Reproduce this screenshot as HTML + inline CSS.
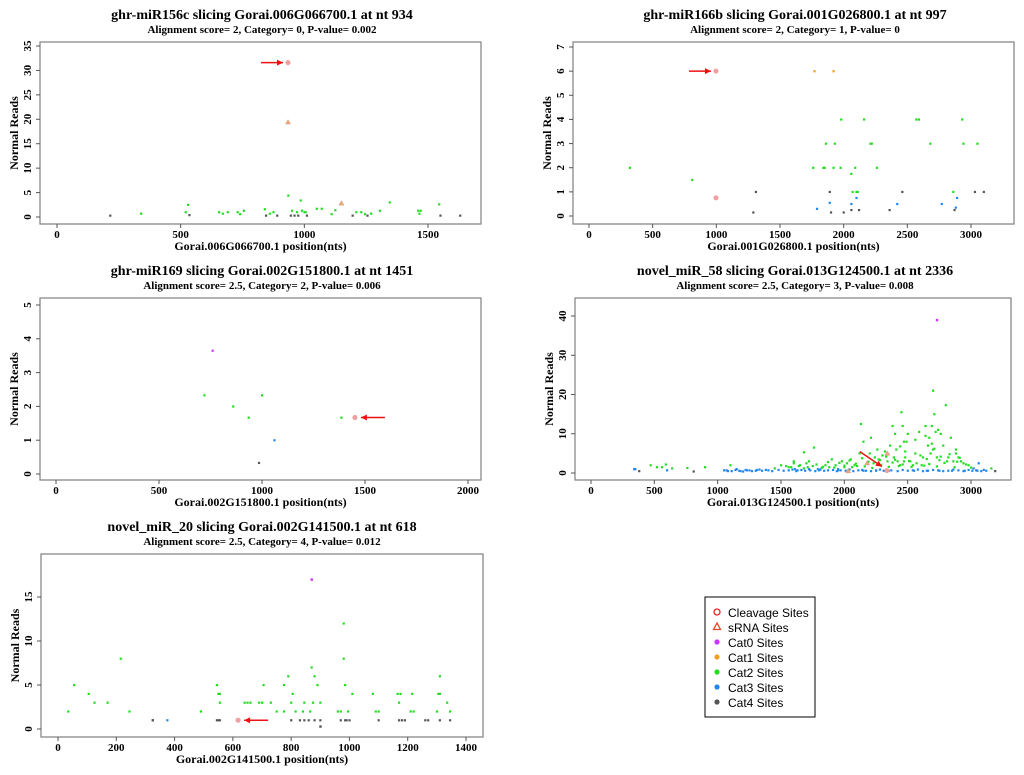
<!DOCTYPE html>
<html><head><meta charset="utf-8"><style>
body{margin:0;background:#fff;width:1024px;height:775px;overflow:hidden}
svg{display:block}
.t{font-family:"Liberation Serif",serif;font-weight:bold;fill:#000}
.l{font-family:"Liberation Sans",sans-serif;font-size:12px;fill:#000}
</style></head><body>
<svg id="c" width="1024" height="775" viewBox="0 0 1024 775"></svg>
<script>
// Panel 1 data
const p1X=[215,340,520,530,535,655,670,690,730,740,755,840,845,860,875,890,935,945,950,960,970,975,985,990,1000,1005,1010,1050,1070,1110,1125,1195,1210,1230,1245,1255,1270,1305,1345,1460,1465,1470,1545,1550,1630];
const p1Y=[0.3,0.7,1,2.5,0.4,1,0.7,1,1,0.6,1.3,1.6,0.3,0.7,1,0.3,4.4,0.3,1.3,0.3,1,0.3,3.4,1.3,1,1,0.3,1.7,1.7,0.6,1.4,0.3,1,1,0.6,0.3,0.7,1.3,3,1.3,0.7,1.3,2.6,0.3,0.3];
const p1C=[4,2,2,2,4,2,2,2,2,2,2,2,4,2,2,4,2,4,2,4,2,4,2,2,2,2,4,2,2,2,2,4,2,2,2,4,2,2,2,2,2,2,2,4,4];
const p1Special=[[934,31.6,'c'],[934,19.4,'s'],[1150,2.8,'s']];
// Panel 2 data
const p2X=[320,810,1290,1310,1760,1790,1840,1850,1860,1890,1890,1900,1920,1930,1975,1980,2000,2060,2060,2060,2070,2090,2100,2100,2110,2120,2160,2210,2220,2260,2360,2420,2460,2570,2590,2680,2770,2860,2870,2880,2890,2930,2940,3030,3050,3100,1770,1920];
const p2Y=[2,1.5,0.15,1,2,0.3,2,2,3,0.55,1,0.15,2,3,2,4,0.15,1.75,0.5,0.25,1,2,0.75,1,1,0.25,4,3,3,2,0.25,0.5,1,4,4,3,0.5,1,0.25,0.35,0.75,4,3,1,3,1,6,6];
const p2C=[2,2,4,4,2,3,2,2,2,3,4,4,2,2,2,2,4,2,3,4,2,2,3,2,2,4,2,2,2,2,4,3,4,2,2,2,3,2,4,3,3,2,2,4,2,4,1,1];
const p2Special=[[997,6,'c'],[997,0.75,'c']];
// Panel 3 data
const p3X=[760,720,860,935,1000,1385,1060,985];
const p3Y=[3.65,2.33,2,1.67,2.33,1.67,1,0.33];
const p3C=[0,2,2,2,2,2,3,4];
const p3Special=[[1451,1.67,'c']];
// Panel 4 data
const p4X=[340,350,380,470,520,560,590,600,640,760,810,900,1050,1080,1100,1150,1180,1220,1250,1300,1330,1380,1450,1500,1540,1580,1600,1610,1650,1680,1700,1710,1720,1750,1760,1790,1820,1850,1880,1900,1930,1950,1980,2000,2020,2050,2080,2100,2120,2130,2150,2180,2200,2210,2240,2260,2280,2300,2320,2340,2360,2380,2400,2420,2440,2450,2460,2470,2480,2500,2520,2540,2560,2590,2620,2640,2660,2680,2690,2700,2710,2720,2730,2740,2760,2780,2800,2820,2840,2860,2880,2900,2920,2940,2980,3020,3060,3100,3160,3190,1630,1800,1950,2150,2250,2350,2550,2650,2750,2850,2950,3050,2390,2410,2470,2490,2610,2670,2700,2810,2230,
 1070,1110,1140,1170,1200,1230,1270,1310,1350,1400,1430,1480,1520,1560,1590,1620,1660,1690,1730,1770,1810,1840,1870,1910,1940,1970,2010,2040,2070,2110,2140,2170,2210,2250,2280,2310,2370,2420,2460,2500,2540,2580,2620,2660,2700,2740,2780,2820,2860,2900,2940,2980,3010,3040,3080,3120,
 1560,1600,1640,1680,1720,1780,1830,1870,1920,1960,2000,2040,2060,2090,2140,2160,2190,2220,2270,2290,2330,2350,2380,2400,2430,2460,2480,2510,2530,2570,2600,2630,2650,2670,2710,2730,2750,2790,2830,2870,2890,2910,2960,3000,2440,2560,2640,2690,2760,2880];
const p4Y=[1,1,0.5,2,1.5,1.5,2.2,0.7,1.2,1.3,0.4,1.5,0.7,0.5,2,1,0.5,0.8,0.7,0.6,0.9,0.8,1.2,2,1.8,1.5,3,1,2,5.3,2.5,1.5,1,1.8,6.5,1,1.3,2,1.5,3.5,2,1,3,1.5,2.5,3.5,2,1.8,5,12.5,8,2.5,5,9,4,6,3.3,4.5,5.5,3,7,12,10,3,2,15.5,12,8,4,10,3,2,5,10.5,4,12,7,5,12,21,15,10.5,4,11,10,7,17.3,4,9,3,5,4,3,2.5,2,1.2,2.5,0.8,1.2,0.5,0.7,0.7,0.7,0.6,0.6,0.6,0.6,0.6,0.6,0.6,0.6,0.6,4,6,3,8,2,9,6,3,2.5,
 0.7,0.5,0.8,0.6,0.4,0.7,0.5,0.8,0.6,0.7,0.5,0.8,0.6,0.7,0.9,0.5,0.8,0.6,0.7,0.5,0.9,0.6,0.7,0.8,0.5,0.7,0.6,0.9,0.5,0.7,0.8,0.6,0.5,0.7,0.9,0.6,0.7,0.5,0.8,0.6,0.7,0.9,0.5,0.6,0.8,0.7,0.5,0.6,0.9,0.7,0.5,0.8,0.6,0.7,0.5,0.6,
 1.5,2.5,1.8,1.2,3,2.2,1.6,2.8,1.4,2.6,1.9,3.2,1.5,2.4,3.8,1.7,2.9,1.3,3.5,2.1,4.2,1.6,2.7,3.4,1.8,2.2,5.5,3.1,1.6,2.5,4.5,1.9,3.6,2.3,6.2,1.7,3.3,2.6,4.8,1.5,2.9,3.9,2.2,1.4,6.8,8.5,9.5,7.5,4.2,6];
const p4C=[3,3,4,2,2,2,2,3,2,2,4,2,3,3,2,3,3,3,3,3,3,3,2,2,2,2,2,3,2,2,2,2,3,2,2,3,2,2,2,2,2,3,2,2,2,2,2,2,2,2,2,2,2,2,2,2,2,2,2,2,2,2,2,2,2,2,2,2,2,2,2,2,2,2,2,2,2,2,2,2,2,2,2,2,2,2,2,2,2,2,2,2,2,2,2,3,3,3,2,4,3,3,3,3,3,3,3,3,3,3,3,3,2,2,2,2,2,2,2,2,2,
 3,3,3,3,3,3,3,3,3,3,3,3,3,3,3,3,3,3,3,3,3,3,3,3,3,3,3,3,3,3,3,3,3,3,3,3,3,3,3,3,3,3,3,3,3,3,3,3,3,3,3,3,3,3,3,3,
 2,2,2,2,2,2,2,2,2,2,2,2,2,2,2,2,2,2,2,2,2,2,2,2,2,2,2,2,2,2,2,2,2,2,2,2,2,2,2,2,2,2,2,2,2,2,2,2,2,2];
const p4Special=[[2730,39,'0'],[2336,0.6,'c'],[2180,2.5,'s'],[2340,5,'s'],[2030,0.5,'s']];
// Panel 5 data
const p5X=[35,55,105,125,170,215,245,325,375,490,545,550,555,555,545,640,650,660,690,700,705,730,750,775,775,790,800,805,815,840,845,865,870,875,880,890,900,960,970,980,980,985,995,1010,1080,1090,1100,1165,1170,1175,1210,1215,1220,1300,1305,1310,1310,1335,1345,550,555,800,830,845,860,880,900,970,985,990,1000,1100,1170,1180,1190,1260,1270,1310,1345,325];
const p5Y=[2,5,4,3,3,8,2,1,1,2,5,4,4,3,1,3,3,3,3,3,5,3,2,5,2,6,3,4,2,2,3,2,7,3,6,5,3,2,2,12,8,5,2,4,4,2,2,4,3,4,2,4,2,2,4,6,4,3,2,1,1,1,1,1,1,1,1,1,1,1,1,1,1,1,1,1,1,1,1,1];
const p5C=[2,2,2,2,2,2,2,4,3,2,2,2,2,2,4,2,2,2,2,2,2,2,2,2,2,2,2,2,2,2,2,2,2,2,2,2,2,2,2,2,2,2,2,2,2,2,2,2,2,2,2,2,2,2,2,2,2,2,2,4,4,4,4,4,4,4,4,4,4,4,4,4,4,4,4,4,4,4,4,4];
const p5Special=[[870,17,'0'],[618,1,'c'],[900,0.3,'4']];

const colors=['#cc33ff','#f0a020','#22dd22','#2288ee','#555555'];
const NS='http://www.w3.org/2000/svg';
const svg=document.getElementById('c');
function mk(tag,attrs,parent,text){const e=document.createElementNS(NS,tag);for(const k in attrs)e.setAttribute(k,attrs[k]);if(text!==undefined)e.textContent=text;(parent||svg).appendChild(e);return e;}

const panels=[
 {name:'panel-mir156c',box:[40,42,481,224],xs:[57,428,0,1500],ys:[217,46,0,35],xt:[0,500,1000,1500],yt:[0,5,10,15,20,25,30,35],
  title:'ghr-miR156c slicing Gorai.006G066700.1 at nt 934',sub:'Alignment score= 2, Category= 0, P-value= 0.002',xl:'Gorai.006G066700.1 position(nts)',X:p1X,Y:p1Y,C:p1C,S:p1Special,arrow:'left',cx:262},
 {name:'panel-mir166b',box:[573,42,1014,224],xs:[589,971,0,3000],ys:[216,47,0,7],xt:[0,500,1000,1500,2000,2500,3000],yt:[0,1,2,3,4,5,6,7],
  title:'ghr-miR166b slicing Gorai.001G026800.1 at nt 997',sub:'Alignment score= 2, Category= 1, P-value= 0',xl:'Gorai.001G026800.1 position(nts)',X:p2X,Y:p2Y,C:p2C,S:p2Special,arrow:'left',cx:795},
 {name:'panel-mir169',box:[40,298,481,480],xs:[56,468,0,2000],ys:[474,305,0,5],xt:[0,500,1000,1500,2000],yt:[0,1,2,3,4,5],
  title:'ghr-miR169 slicing Gorai.002G151800.1 at nt 1451',sub:'Alignment score= 2.5, Category= 2, P-value= 0.006',xl:'Gorai.002G151800.1 position(nts)',X:p3X,Y:p3Y,C:p3C,S:p3Special,arrow:'right',cx:262},
 {name:'panel-novel-mir58',box:[575,298,1011,480],xs:[591,971,0,3000],ys:[473,316,0,40],xt:[0,500,1000,1500,2000,2500,3000],yt:[0,10,20,30,40],
  title:'novel_miR_58 slicing Gorai.013G124500.1 at nt 2336',sub:'Alignment score= 2.5, Category= 3, P-value= 0.008',xl:'Gorai.013G124500.1 position(nts)',X:p4X,Y:p4Y,C:p4C,S:p4Special,arrow:'diag',cx:795},
 {name:'panel-novel-mir20',box:[41,554,483,737],xs:[58,466,0,1400],ys:[729,597,0,15],xt:[0,200,400,600,800,1000,1200,1400],yt:[0,5,10,15],
  title:'novel_miR_20 slicing Gorai.002G141500.1 at nt 618',sub:'Alignment score= 2.5, Category= 4, P-value= 0.012',xl:'Gorai.002G141500.1 position(nts)',X:p5X,Y:p5Y,C:p5C,S:p5Special,arrow:'right',cx:262}
];

panels.forEach(p=>{
  const g=mk('g',{});
  
  
  const [x0,y0,x1,y1]=p.box;
  const sx=v=>p.xs[0]+(v-p.xs[2])*(p.xs[1]-p.xs[0])/(p.xs[3]-p.xs[2]);
  const sy=v=>p.ys[0]+(v-p.ys[2])*(p.ys[1]-p.ys[0])/(p.ys[3]-p.ys[2]);
  const t=mk('text',{x:p.cx,y:y0-23,'text-anchor':'middle',class:'t','font-size':'14'},g,p.title);
  
  const st=mk('text',{x:p.cx,y:y0-9,'text-anchor':'middle',class:'t','font-size':'11'},g,p.sub);
  
  const r=mk('rect',{x:x0,y:y0,width:x1-x0,height:y1-y0,fill:'none',stroke:'#888','stroke-width':1.3},g);
  
  p.xt.forEach(v=>{const x=sx(v);mk('line',{x1:x,x2:x,y1:y1,y2:y1+4,stroke:'#555'},g);
    const tl=mk('text',{x:x,y:y1+14,'text-anchor':'middle',class:'t','font-size':'11'},g,v);
    });
  p.yt.forEach(v=>{const y=sy(v);mk('line',{x1:x0,x2:x0-4,y1:y,y2:y,stroke:'#555'},g);
    const tl=mk('text',{x:x0-9,y:y,'text-anchor':'middle',class:'t','font-size':'11',transform:`rotate(-90 ${x0-9} ${y})`,dy:'0'},g,v);
    });
  const xl=mk('text',{x:(x0+x1)/2,y:y1+26,'text-anchor':'middle',class:'t','font-size':'12'},g,p.xl);
  
  const yc=(y0+y1)/2;
  const yl=mk('text',{x:x0-22,y:yc,'text-anchor':'middle',class:'t','font-size':'12',transform:`rotate(-90 ${x0-22} ${yc})`},g,'Normal  Reads');
  
  p.X.forEach((v,i)=>{
    const d=mk('rect',{x:sx(v)-1,y:sy(p.Y[i])-1,width:2.2,height:2.2,fill:colors[p.C[i]]},g);
    
    
  });
  p.S.forEach(s=>{
    const x=sx(s[0]),y=sy(s[1]);let e;
    if(s[2]==='c'){e=mk('circle',{cx:x,cy:y,r:2.2,fill:'#f0a0a0',stroke:'#e99','stroke-width':0.6},g);}
    else if(s[2]==='s'){e=mk('polygon',{points:`${x},${y-2.5} ${x-2.5},${y+1.8} ${x+2.5},${y+1.8}`,fill:'#e0b070',stroke:'#e88','stroke-width':0.5},g);}
    else {e=mk('rect',{x:x-1,y:y-1,width:2.4,height:2.4,fill:colors[+s[2]]},g);}
    
    
  });
  const c=p.S.find(s=>s[2]==='c');const cx=sx(c[0]),cy=sy(c[1]);
  let ax1,ay1,ax2,ay2;
  if(p.arrow==='left'){ax1=cx-27;ay1=cy;ax2=cx-5;ay2=cy;}
  else if(p.arrow==='right'){ax1=cx+30;ay1=cy;ax2=cx+6;ay2=cy;}
  else {ax1=cx-27;ay1=cy-19;ax2=cx-5;ay2=cy-4;}
  const ang=Math.atan2(ay2-ay1,ax2-ax1);
  const ar=mk('g',{},g);
  
  mk('line',{x1:ax1,y1:ay1,x2:ax2,y2:ay2,stroke:'#ee1111','stroke-width':1.5},ar);
  const h=6,w=3;
  mk('polygon',{points:`${ax2},${ay2} ${ax2-h*Math.cos(ang)+w*Math.sin(ang)},${ay2-h*Math.sin(ang)-w*Math.cos(ang)} ${ax2-h*Math.cos(ang)-w*Math.sin(ang)},${ay2-h*Math.sin(ang)+w*Math.cos(ang)}`,fill:'#ee1111'},ar);
});

// legend
const lg=mk('g',{});

mk('rect',{x:705,y:597,width:110,height:120,fill:'#fff',stroke:'#000','stroke-width':1},lg);
const legendLabels=['Cleavage Sites','sRNA Sites','Cat0 Sites','Cat1 Sites','Cat2 Sites','Cat3 Sites','Cat4 Sites'];
legendLabels.forEach((lab,i)=>{
  const y=613+i*15;
  const it=mk('g',{},lg);
  
  if(i===0)mk('circle',{cx:717,cy:y-1,r:3,fill:'none',stroke:'#ee2222','stroke-width':1.3},it);
  else if(i===1)mk('polygon',{points:`717,${y-5} 713.5,${y+1.5} 720.5,${y+1.5}`,fill:'none',stroke:'#ee4422','stroke-width':1.3},it);
  else mk('circle',{cx:717,cy:y-1,r:2.6,fill:colors[i-2]},it);
  mk('text',{x:728,y:y+4,class:'l'},it,lab);
});
</script>
</body></html>
